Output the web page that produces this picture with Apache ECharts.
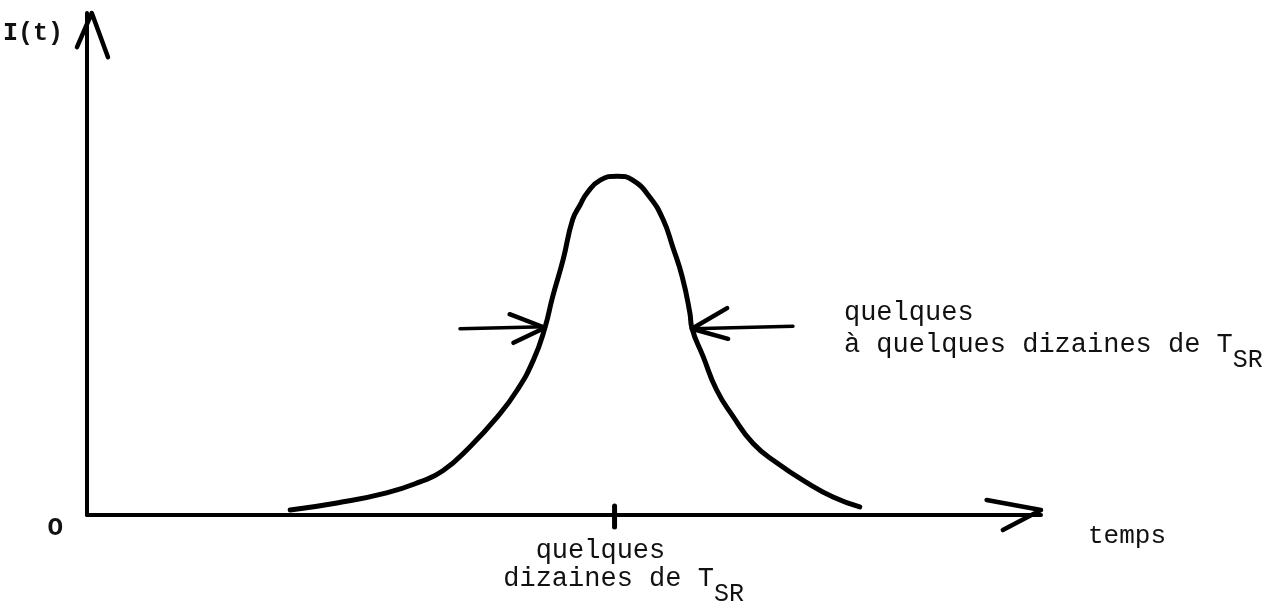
<!DOCTYPE html>
<html>
<head>
<meta charset="utf-8">
<script src="https://cdn.jsdelivr.net/npm/echarts@6/dist/echarts.min.js"></script>
<style>
  html, body { margin: 0; padding: 0; background: #fff; }
  #chart { width: 1271px; height: 602px; }
</style>
</head>
<body>
<div id="chart"></div>
<script>
// courbe I(t) : impulsion, temps en unités arbitraires
const curveT = [21.3, 26.2, 31.4, 34.9, 37.3, 40.1, 43.0, 45.1, 46.8, 48.0, 48.8, 49.9, 50.9, 51.7, 52.4, 53.8, 55.6,
  57.2, 59.0, 60.4, 61.4, 62.4, 63.2, 63.4, 64.6, 66.0, 67.7, 69.8, 72.3, 75.5, 78.2, 81.0];
const curveI = [1.0, 2.4, 4.4, 6.6, 8.8, 13.5, 19.5, 24.9, 30.9, 37.3, 43.4, 50.8, 58.8, 61.8, 64.1, 66.7, 67.5,
  66.7, 63.3, 58.8, 53.4, 47.4, 40.2, 37.3, 31.5, 24.9, 19.7, 14.3, 10.4, 6.4, 3.6, 1.6];

// flèches de largeur (gauche / droite)
const leftShaftT = [39.1, 48.0];
const leftShaftI = [37.1, 37.5];
const leftHeadT = [44.3, 48.0, 44.7];
const leftHeadI = [40.0, 37.3, 34.3];
const rightShaftT = [74.0, 63.4];
const rightShaftI = [37.6, 37.1];
const rightHeadT = [67.1, 63.4, 67.2];
const rightHeadI = [41.2, 37.1, 35.1];

// pointes des axes
const xHeadT = [94.3, 100, 96.0];
const xHeadI = [3.0, 1.0, -3.0];
const yHeadT = [-1.05, 0.5, 2.2];
const yHeadI = [93.2, 100, 91.2];

// repère sur l'axe des temps
const tickT = [55.3, 55.3];
const tickI = [1.8, -2.4];

const FONT = 'Liberation Mono';
const INK = '#111';

const pts = (t, i) => t.map((v, k) => [v, i[k]]);

function richText(lineHeight) {
  return {
    a: { fontFamily: FONT, fontSize: 27, lineHeight: lineHeight, color: INK, align: 'left' },
    sub: { fontFamily: FONT, fontSize: 25, lineHeight: 25, color: INK, align: 'left', padding: [31, 0, 0, 0] },
  };
}

function stroke(name, data, width) {
  return {
    name: name,
    type: 'line',
    data: data,
    showSymbol: false,
    clip: false,
    silent: true,
    lineStyle: { color: '#000', width: width, cap: 'round', join: 'round' },
  };
}

const myChart = echarts.init(document.getElementById('chart'));

const rightShaft = stroke('flèche droite', pts(rightShaftT, rightShaftI), 3.5);
rightShaft.showSymbol = true;
rightShaft.symbolSize = 0;
rightShaft.data[0] = {
  value: rightShaft.data[0],
  label: {
    show: true,
    position: 'right',
    distance: 51,
    offset: [0, 3],
    formatter: '{a|quelques}\n{a|à quelques dizaines de T}{sub|SR}',
    rich: richText(32),
  },
};

const option = {
  backgroundColor: '#fff',
  animation: false,
  grid: { left: 87, right: 230, top: 13, bottom: 87, outerBoundsMode: 'none' },
  xAxis: {
    type: 'value',
    min: 0,
    max: 100,
    name: 'temps',
    nameLocation: 'end',
    nameGap: 47,
    nameTextStyle: {
      fontFamily: FONT, fontSize: 26, color: INK,
      align: 'left', verticalAlign: 'top', lineHeight: 26, padding: [8, 0, 0, 0],
    },
    axisLine: { show: true, onZero: true, lineStyle: { color: '#000', width: 4, cap: 'round' } },
    axisTick: { show: false },
    splitLine: { show: false },
    axisLabel: {
      customValues: [tickT[0]],
      margin: 22,
      align: 'center',
      verticalAlign: 'top',
      padding: [0, 0, 0, 18],
      formatter: () => '{a|  quelques}\n{a|dizaines de T}{sub|SR}',
      rich: richText(28),
    },
  },
  yAxis: {
    type: 'value',
    min: 0,
    max: 100,
    name: 'I(t)',
    nameLocation: 'end',
    nameGap: -21,
    nameTextStyle: {
      fontFamily: FONT, fontSize: 25, fontWeight: 'bold', color: INK,
      align: 'right', verticalAlign: 'middle', padding: [0, 24, 0, 0],
    },
    axisLine: { show: true, lineStyle: { color: '#000', width: 4, cap: 'round' } },
    axisTick: { show: false },
    splitLine: { show: false },
    axisLabel: {
      customValues: [0],
      formatter: () => 'O',
      margin: 24,
      verticalAlign: 'top',
      lineHeight: 26,
      fontFamily: FONT,
      fontSize: 26,
      fontWeight: 'bold',
      color: INK,
    },
  },
  series: [
    Object.assign(stroke('I(t)', pts(curveT, curveI), 5), { smooth: 0.5 }),
    stroke('flèche gauche', pts(leftShaftT, leftShaftI), 3.5),
    stroke('pointe gauche', pts(leftHeadT, leftHeadI), 4.5),
    rightShaft,
    stroke('pointe droite', pts(rightHeadT, rightHeadI), 4.5),
    stroke('pointe x', pts(xHeadT, xHeadI), 4.5),
    stroke('repère', pts(tickT, tickI), 5),
  ],
};

myChart.setOption(option);

// la pointe de l'axe I(t) déborde à gauche de la grille : tracée en graphic, via l'échelle du repère
const yHead = pts(yHeadT, yHeadI).map(p => myChart.convertToPixel({ gridIndex: 0 }, p));
myChart.setOption({
  graphic: [{
    type: 'polyline',
    silent: true,
    shape: { points: yHead },
    style: { stroke: '#000', lineWidth: 4.5, fill: null, lineCap: 'round', lineJoin: 'round' },
  }],
});
</script>
</body>
</html>
